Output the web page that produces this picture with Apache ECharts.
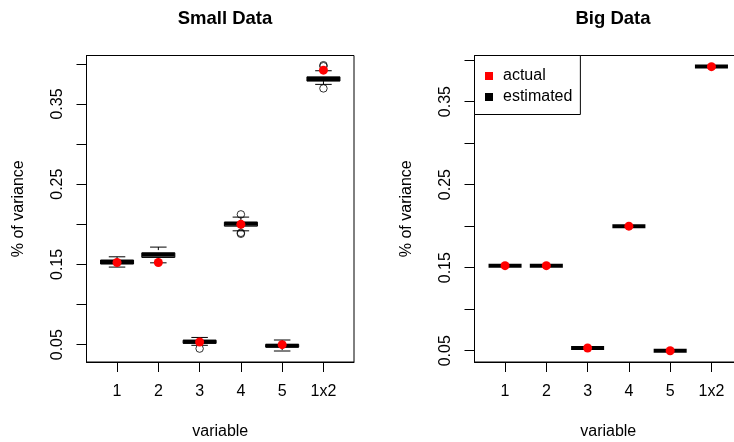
<!DOCTYPE html>
<html>
<head>
<meta charset="utf-8">
<script src="https://cdn.jsdelivr.net/npm/echarts@6/dist/echarts.min.js"></script>
<style>html,body{margin:0;padding:0;background:#fff}#c{width:734px;height:442px}</style>
</head>
<body>
<div id="c"></div>
<script>
// ---- data ----
const categories = ['1', '2', '3', '4', '5', '1x2'];
const actual = [0.1524, 0.1524, 0.0533, 0.2000, 0.0500, 0.3921];
// Small data boxplot stats
const smallLow  = [0.1467, 0.1520, 0.0492, 0.1919, 0.0421, 0.3744];
const smallQ1   = [0.1505, 0.1587, 0.0517, 0.1977, 0.0470, 0.3785];
const smallMed  = [0.1530, 0.1620, 0.0537, 0.2007, 0.0488, 0.3810];
const smallQ3   = [0.1555, 0.1645, 0.0555, 0.2027, 0.0503, 0.3838];
const smallHigh = [0.1595, 0.1716, 0.0590, 0.2090, 0.0558, 0.3914];
const outlierCat = [3, 4, 4, 4, 6, 6, 6];
const outlierVal = [0.0451, 0.2124, 0.1894, 0.1882, 0.3983, 0.3970, 0.3694];
// Big data estimated (degenerate boxes)
const bigEstimated = [0.1524, 0.1524, 0.0533, 0.2000, 0.0500, 0.3923];
const yTicks = [0.05, 0.10, 0.15, 0.20, 0.25, 0.30, 0.35, 0.40];
const yLabels = [0.05, 0.15, 0.25, 0.35];
const xTicks = [1, 2, 3, 4, 5, 6];

const FONT = "'Liberation Sans', Arial, sans-serif";

function renderBox(params, api) {
  const x = api.value(0);
  const ch = [];
  const L = api.coord([x - 0.4, 0])[0], R = api.coord([x + 0.4, 0])[0];
  const sL = api.coord([x - 0.2, 0])[0], sR = api.coord([x + 0.2, 0])[0];
  const cx = api.coord([x, 0])[0];
  const hasBox = api.value(2) !== undefined && !isNaN(api.value(2));
  if (hasBox) {
    const yLow = api.coord([x, api.value(1)])[1];
    const yQ1 = api.coord([x, api.value(2)])[1];
    const yMed = api.coord([x, api.value(3)])[1];
    const yQ3 = api.coord([x, api.value(4)])[1];
    const yHigh = api.coord([x, api.value(5)])[1];
    ch.push({type: 'line', shape: {x1: cx, y1: yHigh, x2: cx, y2: yQ3}, style: {stroke: '#000', lineWidth: 1, lineDash: [3, 3]}});
    ch.push({type: 'line', shape: {x1: cx, y1: yQ1, x2: cx, y2: yLow}, style: {stroke: '#000', lineWidth: 1, lineDash: [3, 3]}});
    ch.push({type: 'line', shape: {x1: sL, y1: yHigh, x2: sR, y2: yHigh}, style: {stroke: '#000', lineWidth: 1}});
    ch.push({type: 'line', shape: {x1: sL, y1: yLow, x2: sR, y2: yLow}, style: {stroke: '#000', lineWidth: 1}});
    ch.push({type: 'rect', shape: {x: L, y: yQ3, width: R - L, height: yQ1 - yQ3}, style: {fill: '#fff', stroke: '#000', lineWidth: 1}});
    ch.push({type: 'line', shape: {x1: L, y1: yMed, x2: R, y2: yMed}, style: {stroke: '#000', lineWidth: 4, lineCap: 'butt'}});
  } else {
    const yMed = api.coord([x, api.value(1)])[1];
    ch.push({type: 'line', shape: {x1: L, y1: yMed, x2: R, y2: yMed}, style: {stroke: '#000', lineWidth: 4, lineCap: 'butt'}});
  }
  return {type: 'group', children: ch};
}

function xAxisCfg(idx) {
  return {
    type: 'value', gridIndex: idx, min: 0.26, max: 6.74,
    name: 'variable', nameLocation: 'middle', nameGap: 62,
    nameTextStyle: {color: '#000', fontSize: 16, fontFamily: FONT},
    axisLine: {show: true, lineStyle: {color: '#000', width: 1}},
    axisTick: {show: true, length: 10, customValues: xTicks, lineStyle: {color: '#000'}},
    axisLabel: {customValues: xTicks, margin: 22, color: '#000', fontSize: 16, fontFamily: FONT,
      formatter: v => categories[Math.round(v) - 1]},
    splitLine: {show: false}
  };
}
function yAxisCfg(idx, mn, mx) {
  return {
    type: 'value', gridIndex: idx, min: mn, max: mx,
    name: '% of variance', nameLocation: 'middle', nameGap: 60, nameRotate: 90,
    nameTextStyle: {color: '#000', fontSize: 16, fontFamily: FONT},
    axisLine: {show: true, lineStyle: {color: '#000', width: 1}},
    axisTick: {show: true, length: 10, customValues: yTicks, lineStyle: {color: '#000'}},
    axisLabel: {customValues: yLabels, rotate: 90, margin: 21, color: '#000', fontSize: 16, fontFamily: FONT,
      formatter: v => v.toFixed(2)},
    splitLine: {show: false}
  };
}

const chart = echarts.init(document.getElementById('c'), null, {renderer: 'canvas'});
chart.setOption({
  animation: false,
  backgroundColor: '#fff',
  title: [
    {text: 'Small Data', left: 220, top: 4, textAlign: 'center',
     textStyle: {fontSize: 18.5, fontWeight: 'bold', color: '#000', fontFamily: FONT}},
    {text: 'Big Data', left: 608, top: 4, textAlign: 'center',
     textStyle: {fontSize: 18.5, fontWeight: 'bold', color: '#000', fontFamily: FONT}}
  ],
  legend: {
    orient: 'vertical', left: 474.5, top: 55.5, selectedMode: false,
    data: [{name: 'actual', icon: 'rect'}, {name: 'estimated', icon: 'rect'}],
    itemWidth: 8, itemHeight: 8, itemGap: 4,
    padding: [12, 8, 9, 10.5],
    borderColor: '#000', borderWidth: 1, backgroundColor: '#fff', borderRadius: 0,
    textStyle: {fontSize: 16, color: '#000', fontFamily: FONT, lineHeight: 17, padding: [0, 0, 0, 5]}
  },
  grid: [
    {left: 86.5, top: 55.5, width: 267.5, height: 306.5, show: true, borderColor: '#000', borderWidth: 1,
     backgroundColor: 'transparent', containLabel: false, outerBoundsMode: 'none'},
    {left: 474.5, top: 55.5, width: 267.5, height: 306.5, show: true, borderColor: '#000', borderWidth: 1,
     backgroundColor: 'transparent', containLabel: false, outerBoundsMode: 'none'}
  ],
  xAxis: [xAxisCfg(0), xAxisCfg(1)],
  yAxis: [yAxisCfg(0, 0.0284, 0.4104), yAxisCfg(1, 0.0364, 0.4055)],
  series: [
    {name: 'estimated', type: 'custom', xAxisIndex: 0, yAxisIndex: 0, renderItem: renderBox,
     itemStyle: {color: '#000'}, encode: {x: 0, y: [1, 2, 3, 4, 5]},
     data: categories.map((c, i) => [i + 1, smallLow[i], smallQ1[i], smallMed[i], smallQ3[i], smallHigh[i]]), z: 2},
    {name: 'outliers', type: 'scatter', xAxisIndex: 0, yAxisIndex: 0, symbol: 'circle', symbolSize: 7.5,
     itemStyle: {color: 'rgba(0,0,0,0)', borderColor: '#000', borderWidth: 1},
     data: outlierCat.map((c, i) => [c, outlierVal[i]]), z: 3},
    {name: 'actual', type: 'scatter', xAxisIndex: 0, yAxisIndex: 0, symbol: 'circle', symbolSize: 9,
     itemStyle: {color: '#ff0000', opacity: 1}, data: actual.map((v, i) => [i + 1, v]), z: 4},
    {name: 'estimated', type: 'custom', xAxisIndex: 1, yAxisIndex: 1, renderItem: renderBox,
     itemStyle: {color: '#000'}, encode: {x: 0, y: 1},
     data: bigEstimated.map((v, i) => [i + 1, v]), z: 2},
    {name: 'actual', type: 'scatter', xAxisIndex: 1, yAxisIndex: 1, symbol: 'circle', symbolSize: 9,
     itemStyle: {color: '#ff0000', opacity: 1}, data: actual.map((v, i) => [i + 1, v]), z: 4}
  ]
});
</script>
</body>
</html>
